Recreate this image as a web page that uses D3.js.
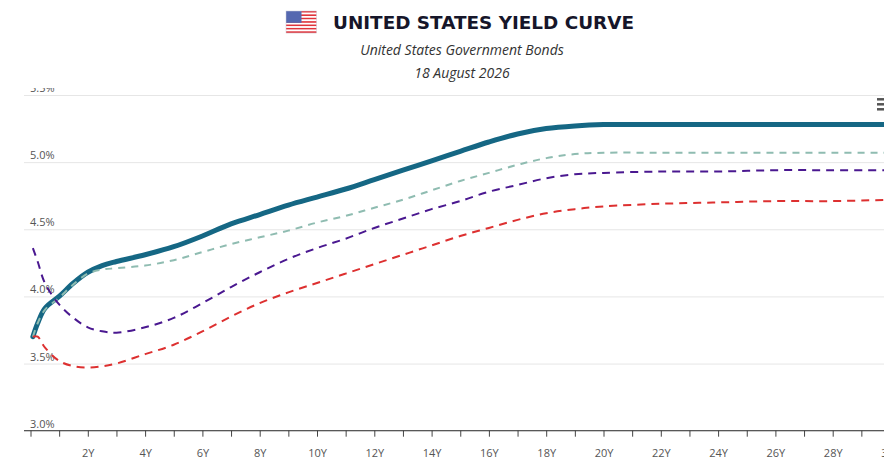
<!DOCTYPE html>
<html>
<head>
<meta charset="utf-8">
<script src="https://cdn.jsdelivr.net/npm/d3@7/dist/d3.min.js"></script>
<style>
html,body{margin:0;padding:0;background:#fff;overflow:hidden;}
svg{display:block;}
</style>
</head>
<body>
<svg id="chart" width="884" height="465"></svg>
<script>
// Maturities in years (1M, 3M, 6M, then yearly)
const maturities = [0.083,0.25,0.5,1,1.5,2,2.5,3,4,5,6,7,8,9,10,11,12,13,14,15,16,17,18,19,20,22,24,26,28,30];
// Series values (%)
const currentCurve = [3.70,3.80,3.91,4.00,4.10,4.18,4.23,4.26,4.31,4.37,4.45,4.54,4.61,4.68,4.74,4.80,4.87,4.94,5.01,5.08,5.15,5.21,5.25,5.27,5.28,5.28,5.28,5.28,5.28,5.28];
const curveA = [3.70,3.80,3.90,3.99,4.09,4.17,4.20,4.21,4.23,4.27,4.33,4.39,4.44,4.49,4.55,4.60,4.66,4.72,4.79,4.86,4.92,4.98,5.03,5.06,5.07,5.07,5.07,5.07,5.07,5.07];
const curveB = [4.36,4.26,4.10,3.94,3.84,3.77,3.74,3.73,3.77,3.84,3.95,4.07,4.18,4.28,4.36,4.43,4.51,4.58,4.65,4.71,4.78,4.83,4.88,4.91,4.92,4.93,4.93,4.94,4.94,4.94];
const curveC = [3.70,3.70,3.62,3.52,3.48,3.47,3.48,3.50,3.57,3.64,3.74,3.85,3.95,4.03,4.10,4.17,4.24,4.31,4.38,4.45,4.51,4.57,4.62,4.65,4.67,4.69,4.70,4.71,4.71,4.72];
// Tick labels
const xTicks = d3.range(0, 31);
const yTicks = [3.0, 3.5, 4.0, 4.5, 5.0, 5.5];
const titleText = "UNITED STATES YIELD CURVE";
const subtitle1 = "United States Government Bonds";
const subtitle2 = "18 August 2026";

const svg = d3.select("#chart");
const W = 884, H = 465;
const plotLeft = 24;

const x = d3.scaleLinear().domain([0, 30]).range([30.5, 890]);
const y = d3.scaleLinear().domain([3, 5.5]).range([430.7, 95]);

// Title with flag
const flag = svg.append("g").attr("transform", "translate(286,11)");
const fw = 30.5, fh = 22;
for (let i = 0; i < 13; i++) {
  flag.append("rect").attr("x", 0).attr("y", i * fh / 13).attr("width", fw).attr("height", fh / 13 + 0.05)
    .attr("fill", i % 2 === 0 ? "#e0343c" : "#ffffff");
}
flag.append("rect").attr("x", 0).attr("y", 0).attr("width", 15.5).attr("height", fh * 7 / 13).attr("fill", "#5568b0");
flag.append("rect").attr("x", 0).attr("y", 0).attr("width", fw).attr("height", fh)
  .attr("fill", "none").attr("stroke", "#c9c9d6").attr("stroke-width", 0.5);

svg.append("text").attr("x", 333).attr("y", 29.3)
  .attr("textLength", 301).attr("lengthAdjust", "spacingAndGlyphs")
  .style("font-family", "'DejaVu Sans', sans-serif").style("font-weight", "bold")
  .style("font-size", "18.5px").style("fill", "#16162a").text(titleText);

svg.append("text").attr("x", 462).attr("y", 55).attr("text-anchor", "middle")
  .style("font-family", "'Open Sans', sans-serif").style("font-style", "italic")
  .style("font-size", "14px").style("fill", "#333").text(subtitle1);
svg.append("text").attr("x", 462).attr("y", 78).attr("text-anchor", "middle")
  .style("font-family", "'Open Sans', sans-serif").style("font-style", "italic")
  .style("font-size", "14px").style("fill", "#333").text(subtitle2);

// Y grid + labels
svg.append("clipPath").attr("id", "yclip").append("rect")
  .attr("x", 0).attr("y", 88).attr("width", W).attr("height", H - 88);

const yAxis = d3.axisLeft(y).tickValues(yTicks).tickSize(-(W - plotLeft))
  .tickFormat(d => d.toFixed(1) + "%");
const yg = svg.append("g").attr("transform", `translate(${plotLeft},0)`)
  .attr("clip-path", "url(#yclip)").call(yAxis);
yg.select(".domain").remove();
yg.selectAll(".tick line").attr("stroke", "#e6e6e6").attr("stroke-width", 1);
yg.selectAll(".tick text").attr("x", 6).attr("dy", -3.5).attr("text-anchor", "start")
  .style("font-family", "'Open Sans', sans-serif").style("font-size", "11px").style("fill", "#555");

// X axis
const xAxis = d3.axisBottom(x).tickValues(xTicks).tickSize(6).tickPadding(12.5)
  .tickFormat(d => (d > 0 && d % 2 === 0) ? d + "Y" : "");
const xg = svg.append("g").attr("transform", `translate(0,${y(3)})`).call(xAxis);
xg.select(".domain").remove();
xg.append("line").attr("x1", plotLeft).attr("x2", W).attr("y1", 0).attr("y2", 0)
  .attr("stroke", "#333").attr("stroke-width", 1);
xg.selectAll(".tick line").attr("stroke", "#444").attr("stroke-width", 1);
xg.selectAll(".tick text").style("font-family", "'Open Sans', sans-serif")
  .style("font-size", "11px").style("fill", "#555");

// Lines
const line = d3.line().x(d => x(d[0])).y(d => y(d[1])).curve(d3.curveCatmullRom.alpha(0.5));
const pairs = vals => maturities.map((m, i) => [m, vals[i]]);

svg.append("path").datum(pairs(currentCurve)).attr("d", line)
  .attr("fill", "none").attr("stroke", "#156784").attr("stroke-width", 5)
  .attr("stroke-linejoin", "round").attr("stroke-linecap", "round");
svg.append("path").datum(pairs(curveA)).attr("d", line)
  .attr("fill", "none").attr("stroke", "#8fbcb1").attr("stroke-width", 2)
  .attr("stroke-dasharray", "7,6");
svg.append("path").datum(pairs(curveB)).attr("d", line)
  .attr("fill", "none").attr("stroke", "#4a1890").attr("stroke-width", 2)
  .attr("stroke-dasharray", "8,6");
svg.append("path").datum(pairs(curveC)).attr("d", line)
  .attr("fill", "none").attr("stroke", "#dd3030").attr("stroke-width", 2)
  .attr("stroke-dasharray", "8,6");

// Context menu icon (partially cut)
[99.3, 104.3, 109.3].forEach(yy => {
  svg.append("line").attr("x1", 877).attr("x2", 890).attr("y1", yy).attr("y2", yy)
    .attr("stroke", "#555").attr("stroke-width", 2.5);
});
</script>
</body>
</html>
